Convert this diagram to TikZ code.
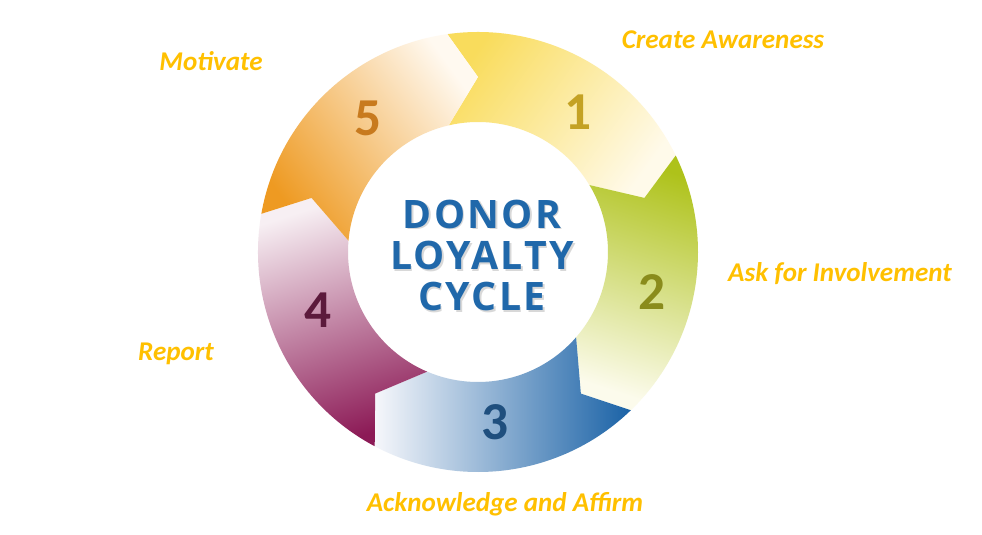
\documentclass[tikz,border=0pt]{standalone}
\usepackage{fontspec}
\setmainfont{Carlito}
\newfontfamily\titlefont[LetterSpace=6]{Open Sans}
\newfontfamily\numfont{Carlito}
\definecolor{labelgold}{HTML}{FFC000}
\definecolor{titleblue}{HTML}{2068AA}
\definecolor{sOne}{HTML}{F9DC5C}
\definecolor{pOne}{HTML}{FFFAEA}
\definecolor{sTwo}{HTML}{AEC21A}
\definecolor{pTwo}{HTML}{FCFBEC}
\definecolor{sThree}{HTML}{1A62A6}
\definecolor{pThree}{HTML}{F6F7FB}
\definecolor{sFour}{HTML}{8C1A56}
\definecolor{pFour}{HTML}{F7EFF3}
\definecolor{sFive}{HTML}{EE9A22}
\definecolor{pFive}{HTML}{FFF9F0}
\definecolor{nOne}{HTML}{C4A224}
\definecolor{nTwo}{HTML}{8A8C1C}
\definecolor{nThree}{HTML}{1F4F7E}
\definecolor{nFour}{HTML}{5C1A3C}
\definecolor{nFive}{HTML}{C87A1E}
\newcommand\segpath[2]{({#1+8}:220) arc[start angle={#1+8}, end angle={#2+8}, radius=220] -- (#2:175) -- ({#2+13}:130) arc[start angle={#2+13}, end angle={#1+13}, radius=130] -- (#1:175) -- cycle}
\tikzset{
  steplabel/.style={font=\bfseries\itshape\fontsize{20.3}{24}\selectfont, text=labelgold, inner sep=0pt},
  stepnum/.style={font=\numfont\bfseries\fontsize{40}{43}\selectfont, inner sep=0pt},
  titletext/.style={font=\titlefont\bfseries\fontsize{29.4}{31}\selectfont, align=center, inner sep=0pt}
}
\begin{document}
\begin{tikzpicture}[x=0.75pt,y=0.75pt]
\useasboundingbox[fill=white] (-478,-283) rectangle (504,252);
% segments
\shade[top color=sOne, bottom color=pOne, shading angle=54] \segpath{90}{18};
\shade[top color=sTwo, bottom color=pTwo, shading angle=-18] \segpath{18}{-54};
\shade[top color=sThree, bottom color=pThree, shading angle=-90] \segpath{-54}{-126};
\shade[top color=sFour, bottom color=pFour, shading angle=-162] \segpath{-126}{-198};
\shade[top color=sFive, bottom color=pFive, shading angle=126] \segpath{162}{90};
% numbers
\node[stepnum, text=nOne] (n1) at (100,140) {1};
\node[stepnum, text=nTwo] (n2) at (174,-40) {2};
\node[stepnum, text=nThree] (n3) at (17,-170) {3};
\node[stepnum, text=nFour] (n4) at (-160,-58) {4};
\node[stepnum, text=nFive] (n5) at (-110,134) {5};
% title
\node[titletext, text=black!30, opacity=0.5] (shadow) at (5.5,-5) {DONOR\\LOYALTY\\CYCLE};
\node[titletext, text=titleblue] (title) at (4,-3.5) {DONOR\\LOYALTY\\CYCLE};
% labels
\node[steplabel] (l1) at (245,212) {Create Awareness};
\node[steplabel] (l2) at (362,-22) {Ask for Involvement};
\node[steplabel] (l3) at (27,-252) {Acknowledge and Affirm};
\node[steplabel] (l4) at (-302,-102) {Report};
\node[steplabel] (l5) at (-267,191) {Motivate};
\end{tikzpicture}
\end{document}
